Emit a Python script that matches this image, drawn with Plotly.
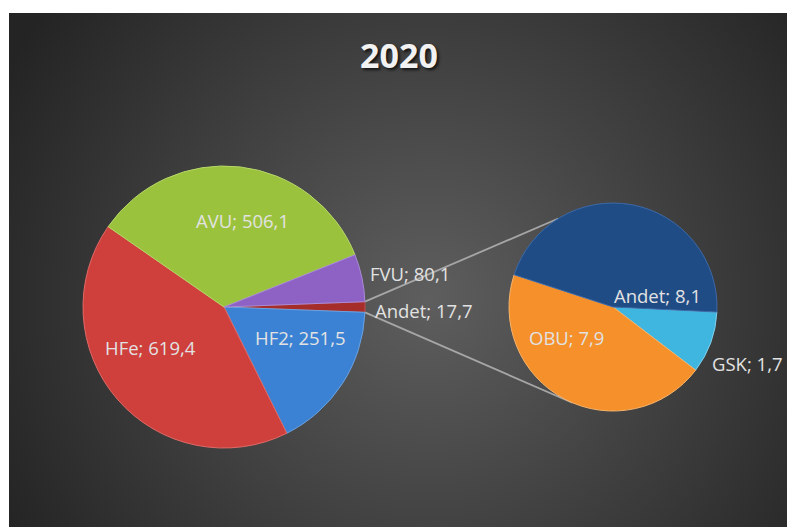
import base64
import math
import plotly.graph_objects as go

# ---------------- data ----------------
title_text = "2020"

main_labels = ["Andet", "HF2", "HFe", "AVU", "FVU"]
main_values = [17.7, 251.5, 619.4, 506.1, 80.1]

sub_labels = ["GSK", "OBU", "Andet"]
sub_values = [1.7, 7.9, 8.1]

# ---------------- styles ----------------
main_colors = ["#a52e2b", "#3b82d4", "#cf3f3c", "#9bc23c", "#8e61c5"]
main_edges = ["#c0504d", "#6aa3e3", "#e06a67", "#b7d86a", "#a98bd6"]
sub_colors = ["#3fb6e0", "#f5902a", "#204c86"]
sub_edges = ["#7fd0ee", "#f9b469", "#3b6aa8"]

# label placement: (dx, dy) in px from the pie centre, and anchor
main_label_pos = [(149, 3, "left"), (76, 30, "center"), (-74, 40, "center"),
                  (18, -87, "center"), (144, -34, "left")]
sub_label_pos = [(97, 56, "left"), (-47, 30, "center"), (44, -12, "center")]

W, H = 787, 527
ML, MT = 9, 13
PW, PH = W - ML, H - MT

main_c, main_r = (224, 307), 141
sub_c, sub_r = (613, 307), 104


def to_paper(x, y):
    return ((x - ML) / PW, (H - y) / PH)


def domain(c, r):
    x0, y0 = to_paper(c[0] - r, c[1] + r)
    x1, y1 = to_paper(c[0] + r, c[1] - r)
    return dict(x=[x0, x1], y=[y0, y1])


def fmt(label, value):
    return f"{label}; {value:.1f}".replace(".", ",")


main_total = sum(main_values)
other_share = main_values[0] / main_total
main_rotation = 90 - 180 * other_share
sub_rotation = 92.8

label_font = dict(family="Open Sans, Lato, sans-serif", size=18.5, color="#e2e2e2")

fig = go.Figure()
fig.add_trace(go.Pie(
    labels=main_labels, values=main_values, sort=False, direction="clockwise",
    rotation=main_rotation, domain=domain(main_c, main_r),
    marker=dict(colors=main_colors, line=dict(width=1, color=main_edges)),
    textinfo="none", hoverinfo="label+value", showlegend=False,
))
fig.add_trace(go.Pie(
    labels=sub_labels, values=sub_values, sort=False, direction="clockwise",
    rotation=sub_rotation, domain=domain(sub_c, sub_r),
    marker=dict(colors=sub_colors, line=dict(width=1, color=sub_edges)),
    textinfo="none", hoverinfo="label+value", showlegend=False,
))

annotations = []
for labels, values, positions, c in [(main_labels, main_values, main_label_pos, main_c),
                                      (sub_labels, sub_values, sub_label_pos, sub_c)]:
    for lab, val, (dx, dy, anc) in zip(labels, values, positions):
        x, y = to_paper(c[0] + dx, c[1] + dy)
        annotations.append(dict(text=fmt(lab, val), x=x, y=y, xref="paper", yref="paper",
                                xanchor=anc, yanchor="middle", showarrow=False, font=label_font))

# connector lines from the "Andet" slice edges to the secondary pie
half = math.pi * other_share
p_top = (main_c[0] + main_r * math.cos(half), main_c[1] - main_r * math.sin(half))
p_bot = (main_c[0] + main_r * math.cos(half), main_c[1] + main_r * math.sin(half))
a_top, a_bot = math.radians(121.7), math.radians(-113)
q_top = (sub_c[0] + sub_r * math.cos(a_top), sub_c[1] - sub_r * math.sin(a_top))
q_bot = (sub_c[0] + sub_r * math.cos(a_bot), sub_c[1] - sub_r * math.sin(a_bot))
shapes = []
for p, q in [(p_top, q_top), (p_bot, q_bot)]:
    x0, y0 = to_paper(*p)
    x1, y1 = to_paper(*q)
    shapes.append(dict(type="line", xref="paper", yref="paper", x0=x0, y0=y0, x1=x1, y1=y1,
                       line=dict(color="#a6a6a6", width=1.8), layer="below"))

svg = (
    f"<svg xmlns='http://www.w3.org/2000/svg' width='{PW}' height='{PH}' viewBox='0 0 {PW} {PH}' preserveAspectRatio='none'>"
    "<defs><radialGradient id='g' gradientUnits='userSpaceOnUse' cx='420' cy='285' r='480'>"
    "<stop offset='0' stop-color='#5e5e5e'/><stop offset='1' stop-color='#242424'/>"
    "</radialGradient></defs>"
    f"<rect width='{PW}' height='{PH}' fill='url(#g)'/></svg>"
)
bg_src = "data:image/svg+xml;base64," + base64.b64encode(svg.encode()).decode()

fig.update_layout(
    width=W, height=H,
    margin=dict(l=ML, r=0, t=MT, b=0, pad=0),
    paper_bgcolor="white",
    separators=",.",
    showlegend=False,
    shapes=shapes,
    annotations=annotations,
    images=[dict(source=bg_src, xref="paper", yref="paper", x=0, y=1, sizex=1, sizey=1,
                 xanchor="left", yanchor="top", sizing="stretch", layer="below")],
    title=dict(text=f"<b>{title_text}</b>", x=399 / W, xanchor="center", y=(H - 56) / H, yanchor="middle",
               font=dict(family="Open Sans, sans-serif", size=34, color="#f2f2f2",
                         shadow="2px 2px 3px rgba(0,0,0,0.7)")),
)

fig.write_html("out.html", config={"displayModeBar": False},
               post_script="document.body.style.margin='0';document.body.style.overflow='hidden';")
